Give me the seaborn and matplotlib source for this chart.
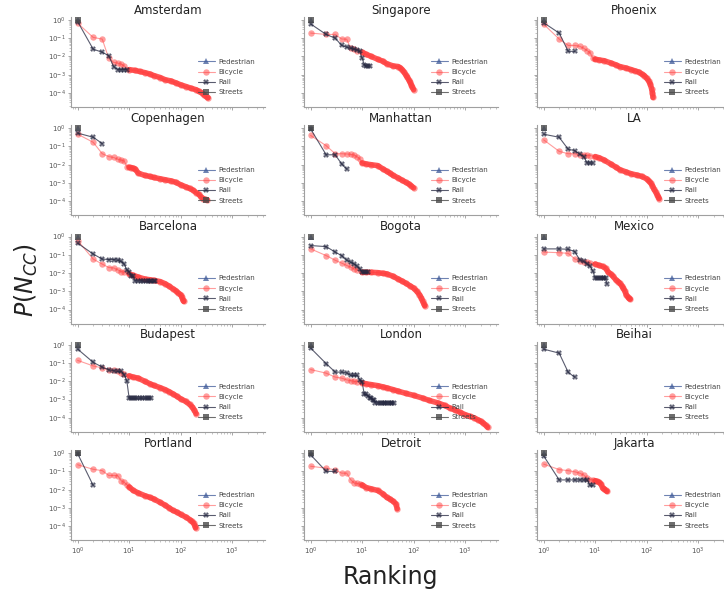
import matplotlib
matplotlib.use("Agg")
import matplotlib.pyplot as plt
import seaborn as sns
import numpy as np
from matplotlib.lines import Line2D

sns.set_style("ticks")
plt.rcParams['font.family'] = ['DejaVu Sans']

# ---------------- data ----------------
CITIES = ["Amsterdam", "Singapore", "Phoenix",
          "Copenhagen", "Manhattan", "LA",
          "Barcelona", "Bogota", "Mexico",
          "Budapest", "London", "Beihai",
          "Portland", "Detroit", "Jakarta"]
SERIES = ["Pedestrian", "Bicycle", "Rail", "Streets"]

# Pedestrian and Streets: a single component of rank 1
PED_R = [1]
PED_P = [1.0]
STREETS_R = [1]
STREETS_P = [1.0]

AMS_BIKE_R = [1, 2, 3, 4, 5, 6, 7, 8, 10, 13, 16, 20, 25, 30, 40, 50, 65, 80, 100, 130, 160, 200, 230, 260, 290, 320, 340]
AMS_BIKE_P = [0.66, 0.11, 0.089, 0.008, 0.0047, 0.0043, 0.0038, 0.003, 0.0019, 0.0017, 0.0015, 0.0013, 0.0011, 0.0009, 0.0007,
              0.00053, 0.00045, 0.00036, 0.00028, 0.00022, 0.00018, 0.00015, 0.00012, 0.0001, 7.5e-5, 6e-5, 5.5e-5]
AMS_RAIL_R = [1, 2, 3, 4, 5, 6, 7, 8, 9]
AMS_RAIL_P = [0.8, 0.025, 0.017, 0.011, 0.0028, 0.0019, 0.0019, 0.0019, 0.0019]

SIN_BIKE_R = [1, 2, 3, 4, 5, 6, 7, 8, 10, 12, 15, 20, 25, 30, 40, 50, 55, 60, 65, 70, 75, 80, 85, 90, 95, 100]
SIN_BIKE_P = [0.19, 0.16, 0.16, 0.09, 0.088, 0.028, 0.025, 0.021, 0.017, 0.013, 0.01, 0.007, 0.0055, 0.004, 0.003, 0.0028,
              0.0024, 0.0019, 0.0014, 0.001, 0.00075, 0.00054, 0.0004, 0.00028, 0.0002, 0.00015]
SIN_RAIL_R = [1, 2, 3, 4, 5, 6, 7, 8, 9, 10, 11, 12, 13, 14]
SIN_RAIL_P = [0.6, 0.16, 0.1, 0.04, 0.032, 0.028, 0.025, 0.023, 0.019, 0.008, 0.0035, 0.003, 0.003, 0.003]

PHX_BIKE_R = [1, 2, 3, 4, 5, 6, 7, 8, 9, 10, 12, 15, 20, 25, 30, 40, 50, 60, 70, 80, 90, 100, 110, 118, 125, 130, 133]
PHX_BIKE_P = [0.58, 0.09, 0.04, 0.04, 0.036, 0.028, 0.021, 0.016, 0.008, 0.007, 0.0064, 0.0058, 0.0044, 0.0035, 0.0028, 0.0023,
              0.0019, 0.0016, 0.0014, 0.0011, 0.0009, 0.00065, 0.00045, 0.0003, 0.00017, 0.0001, 5.7e-5]
PHX_RAIL_R = [1, 2, 3, 4]
PHX_RAIL_P = [0.7, 0.19, 0.019, 0.019]

CPH_BIKE_R = [1, 2, 3, 4, 5, 6, 7, 8, 9, 10, 11, 12, 13, 15, 20, 25, 30, 40, 50, 65, 80, 100, 125, 150, 175, 200, 225, 250, 275, 300, 330]
CPH_BIKE_P = [0.47, 0.17, 0.04, 0.028, 0.025, 0.02, 0.018, 0.016, 0.008, 0.0072, 0.007, 0.0065, 0.006, 0.0035, 0.0026, 0.0023,
              0.002, 0.0017, 0.0015, 0.0013, 0.0011, 0.0008, 0.00062, 0.0005, 0.0004, 0.0003, 0.00024, 0.00017, 0.00014, 0.000125, 0.00012]
CPH_RAIL_R = [1, 2, 3]
CPH_RAIL_P = [0.54, 0.32, 0.145]

MAN_BIKE_R = [1, 2, 3, 4, 5, 6, 7, 8, 9, 10, 12, 15, 20, 25, 30, 35, 40, 50, 60, 70, 80, 90, 100]
MAN_BIKE_P = [0.4, 0.11, 0.04, 0.04, 0.039, 0.037, 0.034, 0.027, 0.021, 0.0125, 0.011, 0.01, 0.009, 0.006, 0.0044, 0.0034,
              0.0026, 0.0019, 0.0014, 0.0011, 0.0009, 0.0007, 0.00054]
MAN_RAIL_R = [1, 2, 3, 4, 5]
MAN_RAIL_P = [0.9, 0.035, 0.035, 0.011, 0.0058]

LA_BIKE_R = [1, 2, 3, 4, 5, 6, 7, 8, 10, 12, 15, 20, 25, 30, 40, 50, 65, 80, 100, 110, 120, 130, 140, 150, 160, 170, 175]
LA_BIKE_P = [0.23, 0.054, 0.04, 0.04, 0.035, 0.035, 0.033, 0.032, 0.028, 0.024, 0.018, 0.011, 0.0075, 0.0054, 0.004, 0.0032,
             0.0027, 0.0023, 0.0017, 0.0013, 0.001, 0.0007, 0.00044, 0.00032, 0.00023, 0.00017, 0.00014]
LA_RAIL_R = [1, 2, 3, 4, 5, 6, 7, 8, 9]
LA_RAIL_P = [0.47, 0.32, 0.07, 0.06, 0.038, 0.028, 0.0125, 0.0125, 0.0125]

BCN_BIKE_R = [1, 2, 3, 4, 5, 6, 7, 8, 10, 12, 15, 20, 25, 30, 40, 50, 60, 70, 80, 90, 100, 105, 110, 115]
BCN_BIKE_P = [0.6, 0.058, 0.031, 0.02, 0.019, 0.015, 0.012, 0.011, 0.009, 0.0075, 0.006, 0.0047, 0.0043, 0.004, 0.0034, 0.0026,
              0.0019, 0.0014, 0.0011, 0.0008, 0.00066, 0.0005, 0.00035, 0.00028]
BCN_RAIL_R = [1, 2, 3, 4, 5, 6, 7, 8, 9, 10, 11, 12, 13, 15, 17, 19, 21, 23, 25, 27, 30, 32]
BCN_RAIL_P = [0.43, 0.11, 0.058, 0.055, 0.055, 0.05, 0.043, 0.031, 0.015, 0.012, 0.007, 0.0065, 0.0038, 0.0037, 0.0037, 0.0036,
              0.0036, 0.0036, 0.0035, 0.0035, 0.0035, 0.0035]

BOG_BIKE_R = [1, 2, 3, 4, 5, 6, 7, 8, 10, 12, 15, 20, 25, 30, 40, 50, 60, 70, 85, 100, 115, 130, 140, 150, 160, 165]
BOG_BIKE_P = [0.21, 0.09, 0.05, 0.035, 0.026, 0.021, 0.017, 0.015, 0.011, 0.011, 0.011, 0.0105, 0.0097, 0.009, 0.0066, 0.0047,
              0.0036, 0.0028, 0.002, 0.0015, 0.001, 0.00066, 0.00045, 0.00028, 0.00019, 0.00016]
BOG_RAIL_R = [1, 2, 3, 4, 5, 6, 7, 8, 9, 10, 11, 12, 13]
BOG_RAIL_P = [0.32, 0.28, 0.14, 0.09, 0.05, 0.038, 0.031, 0.023, 0.017, 0.011, 0.011, 0.011, 0.011]

MEX_BIKE_R = [1, 2, 3, 4, 5, 6, 7, 8, 10, 12, 14, 16, 18, 20, 22, 25, 28, 30, 33, 35, 38, 40, 43, 45, 48]
MEX_BIKE_P = [0.14, 0.13, 0.12, 0.06, 0.047, 0.04, 0.039, 0.035, 0.031, 0.026, 0.023, 0.018, 0.011, 0.009, 0.0068, 0.0044,
              0.0034, 0.0028, 0.002, 0.0015, 0.001, 0.00066, 0.0005, 0.00042, 0.00037]
MEX_RAIL_R = [1, 2, 3, 4, 5, 6, 7, 8, 9, 10, 11, 12, 13, 14, 15, 16, 17]
MEX_RAIL_P = [0.21, 0.21, 0.2, 0.15, 0.054, 0.043, 0.032, 0.023, 0.013, 0.0054, 0.0054, 0.0054, 0.0054, 0.0054, 0.0054, 0.0054, 0.0026]

BUD_BIKE_R = [1, 2, 3, 4, 5, 6, 7, 8, 10, 12, 15, 20, 25, 30, 40, 50, 60, 70, 85, 100, 125, 150, 170, 185, 200]
BUD_BIKE_P = [0.14, 0.07, 0.054, 0.043, 0.04, 0.036, 0.03, 0.026, 0.02, 0.017, 0.015, 0.01, 0.0075, 0.006, 0.0045, 0.0035,
              0.0027, 0.0021, 0.0015, 0.0011, 0.0008, 0.00054, 0.00038, 0.00026, 0.00017]
BUD_RAIL_R = [1, 2, 3, 4, 5, 6, 7, 8, 9, 10, 11, 12, 13, 14, 16, 18, 20, 22, 24, 26]
BUD_RAIL_P = [0.58, 0.11, 0.06, 0.043, 0.038, 0.035, 0.035, 0.023, 0.011, 0.0012, 0.0012, 0.0012, 0.0012, 0.0012, 0.0012,
              0.0012, 0.0012, 0.0012, 0.0012, 0.0012]

LON_BIKE_R = [1, 2, 3, 4, 5, 6, 7, 8, 10, 12, 15, 20, 25, 30, 40, 50, 70, 100, 150, 200, 300, 400, 500, 650, 800, 1000, 1250,
              1500, 1750, 2000, 2250, 2500, 2750]
LON_BIKE_P = [0.044, 0.028, 0.017, 0.015, 0.012, 0.011, 0.01, 0.0095, 0.0082, 0.0073, 0.0066, 0.0058, 0.005, 0.0044, 0.0035,
              0.0029, 0.0022, 0.0017, 0.0012, 0.0009, 0.00065, 0.00048, 0.00035, 0.00026, 0.0002, 0.00015, 0.00012, 0.0001,
              8e-5, 6.6e-5, 5.2e-5, 4e-5, 3e-5]
LON_RAIL_R = [1, 2, 3, 4, 5, 6, 7, 8, 9, 10, 11, 12, 13, 14, 15, 16, 17, 18, 20, 22, 24, 26, 28, 30, 33, 36, 38, 41]
LON_RAIL_P = [0.66, 0.093, 0.032, 0.032, 0.029, 0.021, 0.021, 0.021, 0.012, 0.009, 0.0019, 0.0019, 0.0016, 0.0013, 0.0013,
              0.00097, 0.00097, 0.00066, 0.00066, 0.00066, 0.00066, 0.00066, 0.00066, 0.00066, 0.00066, 0.00066, 0.00066, 0.00066]

BEI_BIKE_R = []
BEI_BIKE_P = []
BEI_RAIL_R = [1, 2, 3, 4]
BEI_RAIL_P = [0.58, 0.35, 0.031, 0.017]

POR_BIKE_R = [1, 2, 3, 4, 5, 6, 7, 8, 9, 10, 12, 15, 20, 25, 30, 40, 50, 60, 70, 85, 100, 125, 150, 165, 180, 190, 195]
POR_BIKE_P = [0.23, 0.13, 0.11, 0.06, 0.06, 0.058, 0.031, 0.025, 0.019, 0.014, 0.009, 0.0066, 0.0047, 0.0038, 0.0031, 0.002,
              0.0014, 0.001, 0.00074, 0.00058, 0.00044, 0.00032, 0.00023, 0.00018, 0.00014, 0.0001, 8e-5]
POR_RAIL_R = [1, 2]
POR_RAIL_P = [0.92, 0.017]

DET_BIKE_R = [1, 2, 3, 4, 5, 6, 7, 8, 9, 10, 12, 15, 20, 25, 30, 35, 40, 45, 48]
DET_BIKE_P = [0.19, 0.15, 0.12, 0.08, 0.08, 0.035, 0.023, 0.022, 0.02, 0.018, 0.013, 0.011, 0.009, 0.006, 0.0038, 0.003,
              0.0023, 0.0017, 0.0009]
DET_RAIL_R = [1, 2, 3]
DET_RAIL_P = [0.8, 0.1, 0.1]

JAK_BIKE_R = [1, 2, 3, 4, 5, 6, 7, 8, 9, 10, 11, 12, 13, 14, 15, 16, 17]
JAK_BIKE_P = [0.25, 0.125, 0.11, 0.095, 0.08, 0.063, 0.042, 0.035, 0.034, 0.031, 0.028, 0.025, 0.02, 0.012, 0.011, 0.009, 0.008]
JAK_RAIL_R = [1, 2, 3, 4, 5, 6, 7, 8, 9]
JAK_RAIL_P = [0.7, 0.034, 0.034, 0.034, 0.034, 0.034, 0.034, 0.017, 0.017]

BIKE = {"Amsterdam": (AMS_BIKE_R, AMS_BIKE_P), "Singapore": (SIN_BIKE_R, SIN_BIKE_P), "Phoenix": (PHX_BIKE_R, PHX_BIKE_P),
        "Copenhagen": (CPH_BIKE_R, CPH_BIKE_P), "Manhattan": (MAN_BIKE_R, MAN_BIKE_P), "LA": (LA_BIKE_R, LA_BIKE_P),
        "Barcelona": (BCN_BIKE_R, BCN_BIKE_P), "Bogota": (BOG_BIKE_R, BOG_BIKE_P), "Mexico": (MEX_BIKE_R, MEX_BIKE_P),
        "Budapest": (BUD_BIKE_R, BUD_BIKE_P), "London": (LON_BIKE_R, LON_BIKE_P), "Beihai": (BEI_BIKE_R, BEI_BIKE_P),
        "Portland": (POR_BIKE_R, POR_BIKE_P), "Detroit": (DET_BIKE_R, DET_BIKE_P), "Jakarta": (JAK_BIKE_R, JAK_BIKE_P)}
RAIL = {"Amsterdam": (AMS_RAIL_R, AMS_RAIL_P), "Singapore": (SIN_RAIL_R, SIN_RAIL_P), "Phoenix": (PHX_RAIL_R, PHX_RAIL_P),
        "Copenhagen": (CPH_RAIL_R, CPH_RAIL_P), "Manhattan": (MAN_RAIL_R, MAN_RAIL_P), "LA": (LA_RAIL_R, LA_RAIL_P),
        "Barcelona": (BCN_RAIL_R, BCN_RAIL_P), "Bogota": (BOG_RAIL_R, BOG_RAIL_P), "Mexico": (MEX_RAIL_R, MEX_RAIL_P),
        "Budapest": (BUD_RAIL_R, BUD_RAIL_P), "London": (LON_RAIL_R, LON_RAIL_P), "Beihai": (BEI_RAIL_R, BEI_RAIL_P),
        "Portland": (POR_RAIL_R, POR_RAIL_P), "Detroit": (DET_RAIL_R, DET_RAIL_P), "Jakarta": (JAK_RAIL_R, JAK_RAIL_P)}

# ---------------- style ----------------
PED_C = "#3f5a99"
BIKE_C = "#ff3d3d"
RAIL_C = "#23263f"
STREETS_C = "#4a4a4a"
DENSE_FROM = 10

W, H = 724, 594
fig = plt.figure(figsize=(W / 100, H / 100), dpi=100)
COL_LEFT = [71, 304, 537]
AX_W, AX_H = 194, 90
ROW_TOP0, ROW_PITCH = 17, 108.3


def draw(ax, r, p, color, marker, alpha, ms, lw=0.8, mew=0, zorder=2):
    sns.lineplot(x=r, y=p, ax=ax, color=color, marker=marker, markersize=ms, alpha=alpha,
                 linewidth=lw, markeredgewidth=mew, markeredgecolor=color, sort=False,
                 estimator=None, legend=False, zorder=zorder)


for i, city in enumerate(CITIES):
    row, col = divmod(i, 3)
    rect = [COL_LEFT[col] / W, 1 - (ROW_TOP0 + row * ROW_PITCH + AX_H) / H, AX_W / W, AX_H / H]
    ax = fig.add_axes(rect)
    ax.set_xscale("log")
    ax.set_yscale("log")

    draw(ax, PED_R, PED_P, PED_C, "^", 0.75, 4)
    br, bp = BIKE[city]
    if br:
        tr = [x for x in br if x >= DENSE_FROM]
        tp = [y for x, y in zip(br, bp) if x >= DENSE_FROM]
        if tr:
            sns.lineplot(x=tr, y=tp, ax=ax, color=BIKE_C, alpha=0.85, linewidth=4.0, sort=False,
                         estimator=None, legend=False, solid_capstyle="round", zorder=2)
        draw(ax, br, bp, BIKE_C, "o", 0.5, 4.6)
    rr, rp = RAIL[city]
    draw(ax, rr, rp, RAIL_C, "X", 0.75, 4.3, zorder=3)
    draw(ax, STREETS_R, STREETS_P, STREETS_C, "s", 0.8, 4.2, zorder=4)

    ax.set_xlim(10 ** -0.13, 10 ** 3.64)
    ax.set_ylim(10 ** -4.77, 10 ** 0.16)
    ax.set_xlabel("")
    ax.set_ylabel("")
    ax.set_title(city, fontsize=8.5, pad=2.5, color="#222222")
    sns.despine(ax=ax)
    for s in ("left", "bottom"):
        ax.spines[s].set_color("#a0a0a0")
        ax.spines[s].set_linewidth(0.8)
    ax.tick_params(which="major", length=2.5, width=0.6, color="#999999", labelsize=5, labelcolor="#555555", pad=1.5)
    ax.tick_params(which="minor", length=1.5, width=0.5, color="#aaaaaa")
    ax.tick_params(axis="y", labelleft=(col == 0))
    ax.tick_params(axis="x", labelbottom=(row == 4))

    handles = [
        Line2D([], [], color=PED_C, marker="^", markersize=4, alpha=0.75, linewidth=0.8, markeredgewidth=0),
        Line2D([], [], color=BIKE_C, marker="o", markersize=4.6, alpha=0.5, linewidth=0.8, markeredgewidth=0),
        Line2D([], [], color=RAIL_C, marker="X", markersize=4.3, alpha=0.75, linewidth=0.8, markeredgewidth=0),
        Line2D([], [], color=STREETS_C, marker="s", markersize=4.2, alpha=0.8, linewidth=0.8, markeredgewidth=0),
    ]
    leg = ax.legend(handles, SERIES, loc="upper left", bbox_to_anchor=(0.655, 0.535), frameon=False,
                    fontsize=5, handlelength=2.4, handletextpad=0.5, labelspacing=0.6,
                    borderpad=0, borderaxespad=0)
    for t in leg.get_texts():
        t.set_color("#444444")

fig.text(390 / W, 1 - 577 / H, "Ranking", ha="center", va="center", fontsize=17, color="#222222")
fig.text(26 / W, 1 - 280 / H, r"$P(N_{CC})$", ha="center", va="center", rotation=90, fontsize=17, color="#222222")

fig.savefig("out.png", dpi=100)
